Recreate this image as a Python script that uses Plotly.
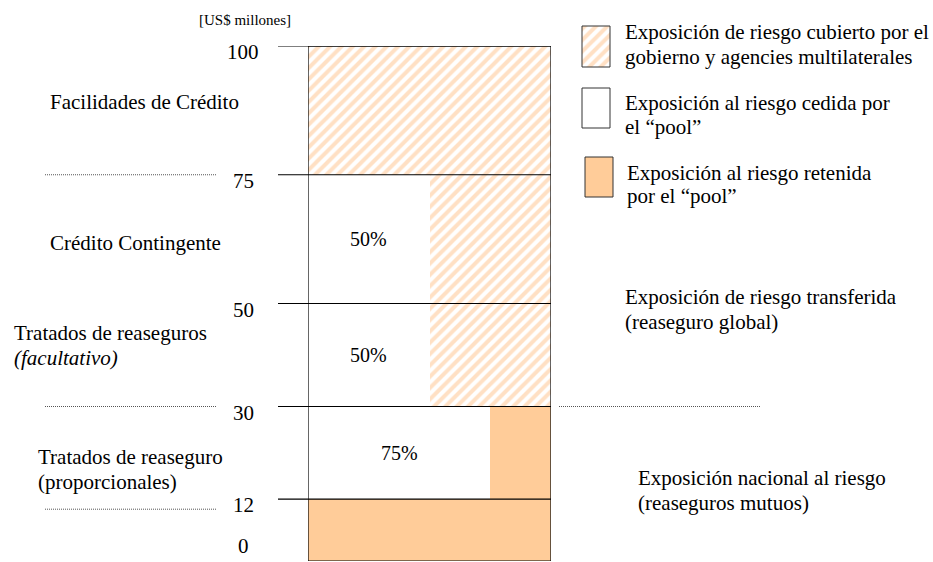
import plotly.graph_objects as go

# ---------------- data ----------------
layer_bounds = [0, 12, 30, 50, 75, 100]          # US$ millones
ceded_share = [0.0, 0.75, 0.5, 0.5, 0.0]         # share of each layer ceded by the pool
remainder_type = ["retenida", "retenida", "cubierto", "cubierto", "cubierto"]
tick_values = [100, 75, 50, 30, 12, 0]
tick_labels = ["100", "75", "50", "30", "12", "0"]

left_labels = [
    ("Facilidades de Crédito", False),
    ("Crédito Contingente", False),
    ("Tratados de reaseguros", False),
    ("(facultativo)", True),
    ("Tratados de reaseguro", False),
    ("(proporcionales)", False),
]
right_labels = [
    "Exposición de riesgo transferida",
    "(reaseguro global)",
    "Exposición nacional al riesgo",
    "(reaseguros mutuos)",
]
legend_labels = [
    ["Exposición de riesgo cubierto por el", "gobierno y agencies multilaterales"],
    ["Exposición al riesgo cedida por", "el “pool”"],
    ["Exposición al riesgo retenida", "por el “pool”"],
]
unit_label = "[US$ millones]"

# ---------------- style ----------------
W, H = 933, 562
FONT = "Liberation Serif"
ORANGE = "#FFCC99"
HATCH = "#FFC28A"
FS = 21


def px(x):
    return x / W


def py(y):
    return 1 - y / H


fig = go.Figure()

# build segments from data
seg = {"cedida": ([], [], [], []), "retenida": ([], [], [], []), "cubierto": ([], [], [], [])}
for i in range(len(ceded_share)):
    y0, y1 = layer_bounds[i], layer_bounds[i + 1]
    s = ceded_share[i]
    parts = []
    if s > 0:
        parts.append(("cedida", 0.0, s))
    parts.append((remainder_type[i], s, 1.0))
    for kind, x0, x1 in parts:
        xs, ws, bs, hs = seg[kind]
        xs.append((x0 + x1) / 2)
        ws.append(x1 - x0)
        bs.append(y0)
        hs.append(y1 - y0)

xs, ws, bs, hs = seg["cubierto"]
fig.add_trace(go.Bar(x=xs, width=ws, base=bs, y=hs, showlegend=False, hoverinfo="skip",
                     marker=dict(color="white", line=dict(width=0),
                                 pattern=dict(shape="/", fgcolor=HATCH, bgcolor="white",
                                              size=8, solidity=0.5))))
xs, ws, bs, hs = seg["cedida"]
fig.add_trace(go.Bar(x=xs, width=ws, base=bs, y=hs, showlegend=False, hoverinfo="skip",
                     marker=dict(color="white", line=dict(width=0))))
xs, ws, bs, hs = seg["retenida"]
fig.add_trace(go.Bar(x=xs, width=ws, base=bs, y=hs, showlegend=False, hoverinfo="skip",
                     marker=dict(color=ORANGE, line=dict(width=0))))

# percentage labels inside ceded segments
for i, s in enumerate(ceded_share):
    if s > 0:
        fig.add_annotation(x=s / 2, y=(layer_bounds[i] + layer_bounds[i + 1]) / 2,
                           xref="x", yref="y", text=f"{int(round(s * 100))}%",
                           showarrow=False, font=dict(family=FONT, size=FS - 1, color="black"))

# legend swatches (pixel axes x2/y2)
sw = [(582, 610, 26, 67), (582, 610, 88, 128), (585, 613, 157, 197)]
sw_style = [
    dict(fillcolor="white", fillpattern=dict(shape="/", fgcolor=HATCH, bgcolor="white", size=8, solidity=0.5)),
    dict(fillcolor="white"),
    dict(fillcolor=ORANGE),
]
for (x0, x1, y0, y1), st in zip(sw, sw_style):
    fig.add_trace(go.Scatter(x=[x0, x1, x1, x0, x0], y=[y0, y0, y1, y1, y0], mode="lines",
                             fill="toself", line=dict(color="#333333", width=1),
                             xaxis="x2", yaxis="y2", showlegend=False, hoverinfo="skip", **st))

shapes = []
# box outline
shapes.append(dict(type="rect", xref="x", yref="y", x0=0, x1=1, y0=layer_bounds[0], y1=layer_bounds[-1],
                   line=dict(color="black", width=1.2), fillcolor="rgba(0,0,0,0)", layer="above"))
# boundary lines extending left as tick marks
for v in layer_bounds[1:]:
    shapes.append(dict(type="line", xref="paper", yref="y", x0=px(278), x1=px(551), y0=v, y1=v,
                       line=dict(color="black", width=1.2), layer="above"))
# dotted guide lines
dotted = [(75, 45, 216, 0), (30, 45, 216, 0), (12, 45, 216, -10), (30, 559, 761, 0)]
for v, xa, xb, off in dotted:
    shapes.append(dict(type="line", xref="paper", yref="y", ysizemode="pixel", yanchor=v,
                       x0=px(xa), x1=px(xb), y0=off, y1=off,
                       line=dict(color="#555555", width=1, dash="1px,1px")))
fig.update_layout(shapes=shapes)

# tick labels
for v, t in zip(tick_values, tick_labels):
    if v == 0:
        fig.add_annotation(x=px(243), y=v, xref="paper", yref="y", text=t, showarrow=False,
                           xanchor="center", yanchor="bottom", yshift=1,
                           font=dict(family=FONT, size=FS, color="black"))
    else:
        fig.add_annotation(x=px(243), y=v, xref="paper", yref="y", text=t, showarrow=False,
                           xanchor="center", yanchor="middle", yshift=-6,
                           font=dict(family=FONT, size=FS, color="black"))

# unit label
fig.add_annotation(x=px(197), y=py(20), xref="paper", yref="paper", text=unit_label, showarrow=False,
                   xanchor="left", yanchor="middle", font=dict(family=FONT, size=15, color="black"))

# left labels
left_pos = [(48, 102), (48, 243), (12, 333), (12, 358), (36, 457), (36, 482)]
for (t, ital), (x, y) in zip(left_labels, left_pos):
    fig.add_annotation(x=px(x), y=py(y), xref="paper", yref="paper",
                       text=(f"<i>{t}</i>" if ital else t), showarrow=False,
                       xanchor="left", yanchor="middle", font=dict(family=FONT, size=FS, color="black"))

# right labels
right_pos = [(623, 297), (623, 322), (636, 478), (636, 503)]
for t, (x, y) in zip(right_labels, right_pos):
    fig.add_annotation(x=px(x), y=py(y), xref="paper", yref="paper", text=t, showarrow=False,
                       xanchor="left", yanchor="middle", font=dict(family=FONT, size=FS, color="black"))

# legend text
leg_pos = [[(623, 32), (623, 57)], [(623, 103), (623, 127)], [(625, 173), (625, 196)]]
for lines, poss in zip(legend_labels, leg_pos):
    for t, (x, y) in zip(lines, poss):
        fig.add_annotation(x=px(x), y=py(y), xref="paper", yref="paper", text=t, showarrow=False,
                           xanchor="left", yanchor="middle", font=dict(family=FONT, size=FS, color="black"))

fig.update_layout(
    width=W, height=H,
    margin=dict(l=0, r=0, t=0, b=0),
    paper_bgcolor="white", plot_bgcolor="rgba(0,0,0,0)",
    barmode="overlay", bargap=0,
    font=dict(family=FONT),
    xaxis=dict(domain=[px(308), px(551)], range=[0, 1], visible=False, fixedrange=True),
    yaxis=dict(domain=[1 / H, 516 / H], range=[0, 100], visible=False, fixedrange=True),
    xaxis2=dict(domain=[0, 1], range=[0, W], visible=False, anchor="y2", fixedrange=True),
    yaxis2=dict(domain=[0, 1], range=[H, 0], visible=False, anchor="x2", fixedrange=True),
    showlegend=False,
)

fig.write_html("out.html", config={"displayModeBar": False},
               post_script="document.body.style.margin='0px';document.body.style.overflow='hidden';")
